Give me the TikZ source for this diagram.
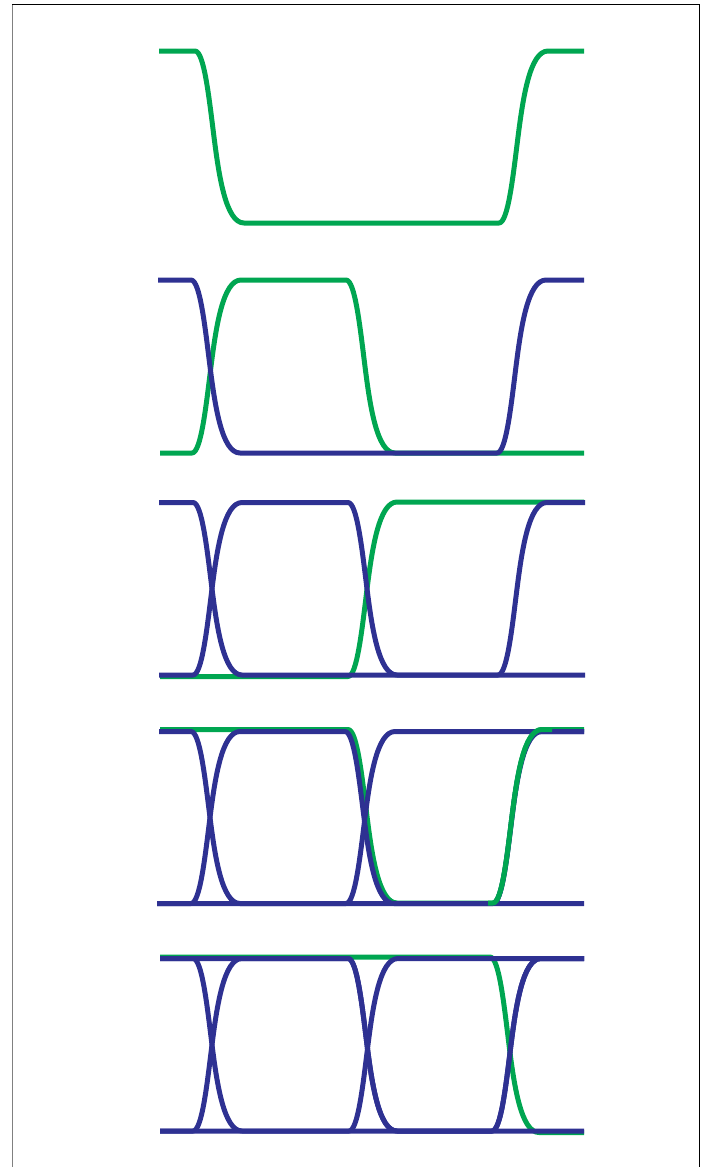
\documentclass[tikz,border=0pt]{standalone}
\begin{document}
\begin{tikzpicture}[x=1pt,y=-1pt,
  wave/.style={line width=5pt, line join=round},
  gwave/.style={wave, draw=wgreen},
  bwave/.style={wave, draw=wblue},
  wt/.style n args={3}{insert path={
    -- ({#1-19},{#2})
    .. controls ({#1-10},{#2}) and ({#1-5},{#2+0.27*(#3-#2)}) .. ({#1},{#2+0.5*(#3-#2)})
    .. controls ({#1+5},{#2+0.73*(#3-#2)}) and ({#1+12},{#3}) .. ({#1+30},{#3})}}]
\definecolor{wgreen}{RGB}{0,166,81}
\definecolor{wblue}{RGB}{46,49,146}
\useasboundingbox (0,0) rectangle (707,1167);
% frame
\draw[line width=1pt, black!50] (12,4) -- (12,1167);
\draw[line width=1pt, black] (12,4) -- (699,4) -- (699,1167);

% panel 1
\draw[gwave] (159,51) [wt={214}{51}{223}] [wt={518}{223}{51}] -- (584,51);

% panel 2
\draw[gwave] (160,453) [wt={211}{453}{280}] [wt={365}{280}{453}] -- (584,453);
\draw[bwave] (158,280) [wt={210}{280}{453}] [wt={516}{453}{280}] -- (584,280);

% panel 3
\draw[gwave] (160,676.5) [wt={367}{676.5}{502}] -- (584,502);
\draw[bwave] (159,502.5) [wt={212}{502.5}{675}] [wt={517}{675}{502.5}] -- (585,502.5);
\draw[bwave] (159,675) [wt={212}{675}{502.5}] [wt={367}{502.5}{675}] -- (585,675);

% panel 4
\draw[gwave] (160,729.5) [wt={367}{729.5}{903}] [wt={512}{903}{729.5}] -- (584,729.5);
\draw[bwave] (159,731.5) [wt={210}{731.5}{903.5}] [wt={512}{903.5}{731.5}] -- (584,731.5);
\draw[bwave] (157,903.5) [wt={210}{903.5}{731.5}] [wt={364}{731.5}{903.5}] -- (584,903.5);
\draw[bwave] (157,903.5) [wt={365}{903.5}{731.5}] -- (584,731.5);
\draw[gwave] (488,903) [wt={512}{903}{729.5}] -- (552,729.5);

% panel 5
\draw[gwave] (160,957) [wt={509}{957}{1132.5}] -- (584,1132.5);
\draw[bwave] (160,958.5) [wt={212}{958.5}{1131}] [wt={511}{1131}{958.5}] -- (584,958.5);
\draw[bwave] (160,1131) [wt={212}{1131}{958.5}] [wt={367}{958.5}{1131}] -- (584,1131);
\draw[bwave] (160,1131) [wt={368}{1131}{958.5}] -- (584,958.5);
\draw[bwave] (160,958.5) [wt={367}{958.5}{1131}] [wt={511}{1131}{958.5}] -- (584,958.5);
\end{tikzpicture}
\end{document}
